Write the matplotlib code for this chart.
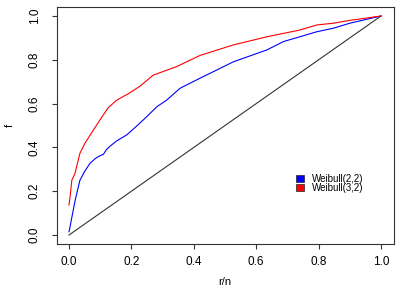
import matplotlib
matplotlib.use("Agg")
import matplotlib.pyplot as plt
from matplotlib.patches import Patch

plt.rcParams['font.family'] = ['Liberation Sans', 'DejaVu Sans']

# cumulative curves (r/n, f)
w22_x = [0.0, 0.003, 0.009, 0.02, 0.035, 0.05, 0.067, 0.085, 0.099, 0.11, 0.12, 0.131,
         0.153, 0.185, 0.215, 0.249, 0.281, 0.313, 0.356, 0.42, 0.473, 0.527, 0.634,
         0.687, 0.794, 0.847, 0.90, 1.0]
w22_f = [0.015, 0.035, 0.08, 0.16, 0.25, 0.29, 0.327, 0.35, 0.362, 0.368, 0.39, 0.405,
         0.43, 0.457, 0.495, 0.54, 0.585, 0.616, 0.67, 0.716, 0.753, 0.791, 0.845,
         0.883, 0.928, 0.944, 0.967, 1.0]

w32_x = [0.0, 0.004, 0.009, 0.019, 0.035, 0.051, 0.078, 0.099, 0.125, 0.153, 0.19,
         0.228, 0.27, 0.345, 0.42, 0.527, 0.634, 0.74, 0.794, 0.847, 0.90, 1.0]
w32_f = [0.137, 0.18, 0.25, 0.28, 0.373, 0.419, 0.479, 0.525, 0.58, 0.616, 0.645,
         0.68, 0.73, 0.769, 0.82, 0.868, 0.905, 0.936, 0.959, 0.967, 0.98, 1.0]

labels = ['Weibull(2,2)', 'Weibull(3,2)']
colors = ['#0000ff', '#ff0000']

fig = plt.figure(figsize=(3.96, 2.89), dpi=100)
ax = fig.add_axes([0.1427, 0.1564, 0.851, 0.8186])

ax.plot([0, 1], [0, 1], color='#333333', lw=0.8)
ax.plot(w22_x, w22_f, color=colors[0], lw=0.8)
ax.plot(w32_x, w32_f, color=colors[1], lw=0.8)

ax.set_xlim(-0.04, 1.04)
ax.set_ylim(-0.04, 1.04)
ticks = [0.0, 0.2, 0.4, 0.6, 0.8, 1.0]
ax.set_xticks(ticks)
ax.set_yticks(ticks)
ax.set_xticklabels(['%.1f' % t for t in ticks], fontsize=8.5)
ax.set_yticklabels(['%.1f' % t for t in ticks], fontsize=8.5, rotation=90, va='center')
ax.tick_params(direction='out', length=3.8, width=0.8, color='#333333')
ax.tick_params(axis='x', pad=5.2)
ax.tick_params(axis='y', pad=7.4)
for s in ax.spines.values():
    s.set_color('#333333')
    s.set_linewidth(0.8)

fig.text(225 / 396, 1 - 282 / 289, 'r/n', fontsize=8, ha='center', va='center')
fig.text(10 / 396, 1 - 125 / 289, 'f', fontsize=8, ha='center', va='center', rotation=90)

handles = [Patch(facecolor=c, edgecolor='#222222', lw=0.5) for c in colors]
ax.legend(handles, labels, loc='upper left', bbox_to_anchor=(0.69, 0.325), frameon=False,
          fontsize=7, handlelength=0.8, handleheight=0.7, handletextpad=0.9,
          labelspacing=-0.1, borderpad=0.2)

fig.savefig('out.png', dpi=100)
